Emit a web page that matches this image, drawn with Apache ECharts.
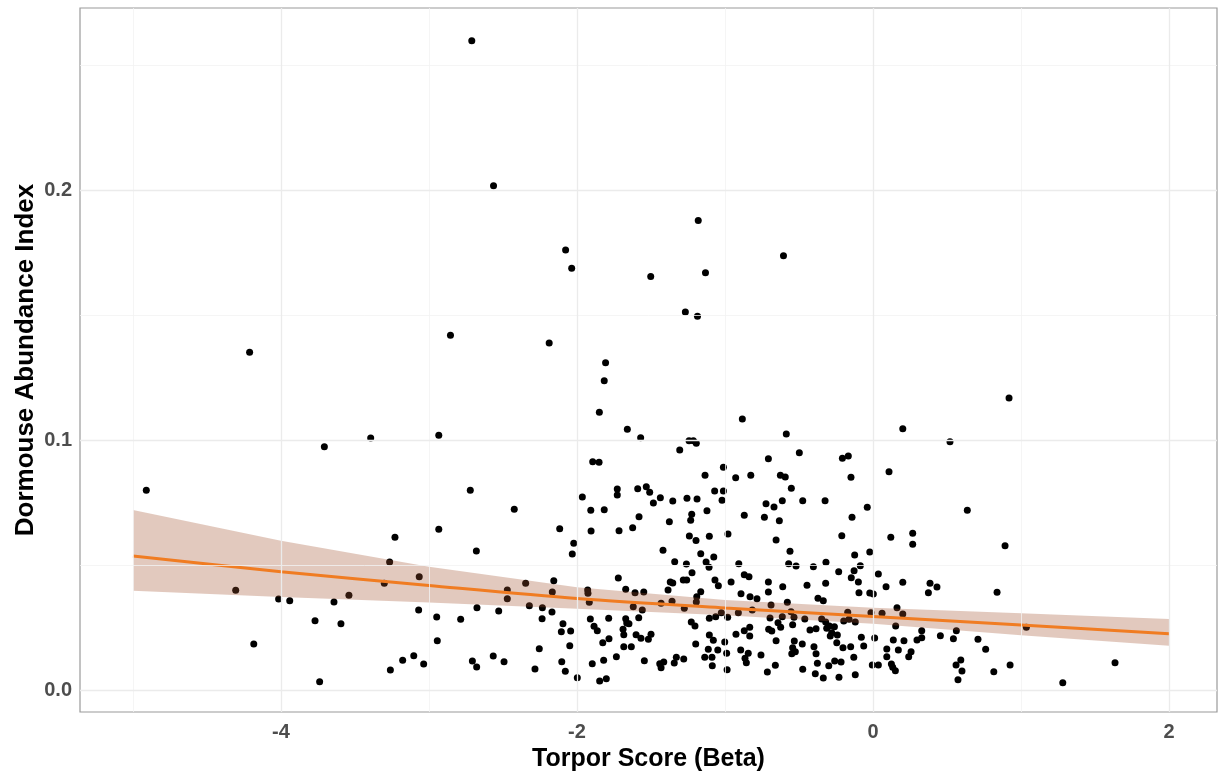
<!DOCTYPE html>
<html>
<head>
<meta charset="utf-8">
<title>Dormouse abundance vs torpor score</title>
<script src="https://cdn.jsdelivr.net/npm/echarts@6.0.0/dist/echarts.min.js"></script>
<style>
  html, body { margin: 0; padding: 0; background: #fff; }
  #main { width: 1218px; height: 774px; }
</style>
</head>
<body>
<div id="main"></div>
<script>
// observed sites: torpor score (x) and abundance index (y)
var ptX = [
  -3.707, -4.910, -4.306, -4.016, -3.941, -3.770, -4.184, -3.739,
  -3.394, -2.934, -2.721, -2.424, -2.934, -3.230, -2.680, -2.117, -2.022, -2.032,
  -3.266, -3.066, -3.302, -3.541, -3.642, -3.595, -3.070, -2.948, -2.944, -2.786,
  -2.676, -2.529, -2.471, -2.471, -2.347, -2.322, -2.234, -2.236, -2.169, -2.157,
  -2.167, -2.095, -2.106, -2.043, -2.049, -2.255, -2.566, -2.493, -2.707, -2.678,
  -3.103, -3.178, -3.036, -3.261, -2.284, -2.103, -2.079, -1.998,
  -1.816, -1.849, -1.660, -1.570, -1.306, -1.243, -1.214, -1.194, -1.894, -1.851,
  -1.011, -1.135, -1.964, -1.728, -1.728, -1.590, -1.532, -1.509, -1.437, -1.484,
  -1.353, -1.257, -1.189, -1.070, -1.011, -1.020, -1.907, -1.816, -1.581, -1.122,
  -1.225, -1.232, -1.376, -1.905, -1.716, -1.624, -1.241, -1.196, -1.106, -0.980,
  -1.419, -1.164, -1.076, -1.340, -1.261, -1.128, -1.108, -1.223, -1.721, -1.370,
  -1.353, -1.282, -1.259, -1.068, -1.045, -1.671, -1.385, -1.928, -1.926, -1.608,
  -1.549, -1.164, -1.191, -1.917, -1.432, -1.358, -1.194, -1.620, -1.559, -1.275,
  -1.025, -1.910, -1.786, -1.671, -1.583, -1.664, -1.649, -1.106, -1.063, -0.982,
  -1.228, -1.203, -1.885, -1.863, -1.689, -1.684, -1.601, -1.568, -1.518, -1.500,
  -1.784, -1.826, -1.684, -1.633, -1.198, -1.106, -1.079, -1.002, -1.113, -1.049,
  -0.989, -1.734, -1.137, -1.088, -1.329, -1.279, -1.545, -1.820, -1.897, -1.441,
  -1.414, -1.343, -1.432, -1.086, -0.986, -1.802, -1.847,
  -0.883, -0.586, -0.498, -0.707, -0.207, -0.167, -0.928, -0.826, -0.626, -0.593,
  -0.149, -0.552, -0.723, -0.669, -0.613, -0.475, -0.324, -0.039, -0.870, -0.734,
  -0.633, -0.142, -0.655, -0.211,
  -0.561, -0.124, -0.022, -0.907, -0.570, -0.520, -0.403, -0.318, -0.232, -0.128,
  -0.086, -0.147, -0.099, 0.036, -0.870, -0.838, -0.959, -0.707, -0.610, -0.446,
  -0.320, -0.707, -0.892, -0.831, -0.784, -0.372, -0.336, -0.579, -0.095, -0.022,
  0.002, -0.689, -0.910, -0.816, -0.554, -0.696, -0.613, -0.534, -0.461, -0.347,
  -0.171, -0.014, -0.642, -0.624, -0.543, -0.705, -0.684, -0.870, -0.833, -0.926,
  -0.833, -0.320, -0.295, -0.198, -0.162, -0.120, -0.313, -0.261, -0.426, -0.385,
  -0.279, -0.289, -0.241, -0.245, -0.655, -0.532, -0.478, -0.543, -0.525, -0.549,
  -0.399, -0.385, -0.203, -0.151, -0.079, -0.063, 0.011, -0.894, -0.843, -0.865,
  -0.856, -0.757, -0.130, -0.376, -0.259, -0.216, -0.299, -0.660, -0.475, -0.714,
  -0.390, -0.336, -0.230, -0.120, -0.005, 0.036,
  0.919, 0.201, 0.520, 0.108, 0.637, 0.120, 0.268, 0.268, 0.892, 0.088,
  0.201, 0.385, 0.374, 0.432, 0.838, 0.162, 0.201, 0.061, 0.153, 0.329,
  0.563, 1.036, 0.137, 0.209, 0.297, 0.329, 0.455, 0.543, 0.709, 0.093,
  0.171, 0.257, 0.241, 0.093, 0.761, 0.124, 0.133, 0.151, 0.561, 0.593,
  0.601, 0.574, 0.816, 0.926, 1.635, 1.282,
  -2.711, -2.564, -2.077, -2.036, -2.855, -2.188, -1.807, -4.212, -1.181, -0.605,
  -1.502, -1.132, -1.268, -1.186
];
var ptY = [
  0.0973, 0.0799, 0.0399, 0.0364, 0.0357, 0.0277, 0.0184, 0.0033,
  0.1008, 0.1019, 0.0799, 0.0723, 0.0643, 0.0611, 0.0556, 0.0645, 0.0587, 0.0544,
  0.0512, 0.0453, 0.0427, 0.0379, 0.0352, 0.0265, 0.0320, 0.0292, 0.0197, 0.0283,
  0.0329, 0.0316, 0.0400, 0.0365, 0.0427, 0.0337, 0.0329, 0.0285, 0.0312, 0.0437,
  0.0392, 0.0265, 0.0233, 0.0236, 0.0177, 0.0165, 0.0136, 0.0113, 0.0116, 0.0092,
  0.0137, 0.0119, 0.0104, 0.0080, 0.0084, 0.0113, 0.0075, 0.0049,
  0.1237, 0.1111, 0.1043, 0.1009, 0.0960, 0.0997, 0.0997, 0.0987, 0.0913, 0.0911,
  0.0891, 0.0859, 0.0772, 0.0804, 0.0780, 0.0805, 0.0813, 0.0791, 0.0769, 0.0748,
  0.0756, 0.0767, 0.0764, 0.0796, 0.0796, 0.0759, 0.0719, 0.0721, 0.0693, 0.0717,
  0.0703, 0.0679, 0.0673, 0.0636, 0.0637, 0.0649, 0.0616, 0.0598, 0.0615, 0.0624,
  0.0559, 0.0545, 0.0532, 0.0513, 0.0504, 0.0512, 0.0491, 0.0469, 0.0448, 0.0432,
  0.0428, 0.0440, 0.0440, 0.0440, 0.0417, 0.0403, 0.0400, 0.0400, 0.0387, 0.0389,
  0.0392, 0.0393, 0.0373, 0.0351, 0.0347, 0.0355, 0.0352, 0.0333, 0.0320, 0.0327,
  0.0309, 0.0284, 0.0287, 0.0285, 0.0289, 0.0268, 0.0265, 0.0287, 0.0293, 0.0291,
  0.0272, 0.0256, 0.0255, 0.0237, 0.0243, 0.0221, 0.0221, 0.0207, 0.0203, 0.0223,
  0.0205, 0.0189, 0.0173, 0.0173, 0.0184, 0.0220, 0.0199, 0.0192, 0.0163, 0.0160,
  0.0147, 0.0133, 0.0131, 0.0131, 0.0131, 0.0124, 0.0117, 0.0119, 0.0105, 0.0105,
  0.0112, 0.0108, 0.0089, 0.0097, 0.0081, 0.0045, 0.0036,
  0.1084, 0.1024, 0.0949, 0.0925, 0.0927, 0.0936, 0.0849, 0.0859, 0.0859, 0.0852,
  0.0851, 0.0807, 0.0745, 0.0732, 0.0757, 0.0757, 0.0757, 0.0731, 0.0699, 0.0691,
  0.0677, 0.0691, 0.0600, 0.0617,
  0.0555, 0.0540, 0.0552, 0.0505, 0.0505, 0.0496, 0.0493, 0.0511, 0.0473, 0.0477,
  0.0497, 0.0449, 0.0432, 0.0464, 0.0461, 0.0453, 0.0432, 0.0432, 0.0413, 0.0419,
  0.0427, 0.0392, 0.0385, 0.0373, 0.0365, 0.0367, 0.0357, 0.0351, 0.0389, 0.0388,
  0.0384, 0.0340, 0.0309, 0.0320, 0.0313, 0.0288, 0.0293, 0.0291, 0.0284, 0.0284,
  0.0311, 0.0309, 0.0269, 0.0251, 0.0261, 0.0243, 0.0236, 0.0237, 0.0251, 0.0223,
  0.0216, 0.0272, 0.0256, 0.0276, 0.0283, 0.0272, 0.0247, 0.0253, 0.0240, 0.0245,
  0.0229, 0.0216, 0.0220, 0.0189, 0.0197, 0.0196, 0.0184, 0.0169, 0.0153, 0.0145,
  0.0173, 0.0145, 0.0169, 0.0173, 0.0211, 0.0176, 0.0208, 0.0160, 0.0147, 0.0127,
  0.0109, 0.0140, 0.0131, 0.0107, 0.0116, 0.0112, 0.0097, 0.0099, 0.0083, 0.0072,
  0.0065, 0.0048, 0.0051, 0.0061, 0.0100, 0.0100,
  0.1168, 0.1045, 0.0993, 0.0873, 0.0719, 0.0611, 0.0627, 0.0583, 0.0577, 0.0413,
  0.0431, 0.0427, 0.0389, 0.0412, 0.0391, 0.0329, 0.0304, 0.0307, 0.0256, 0.0237,
  0.0237, 0.0251, 0.0200, 0.0197, 0.0200, 0.0209, 0.0217, 0.0205, 0.0203, 0.0164,
  0.0160, 0.0153, 0.0133, 0.0133, 0.0163, 0.0104, 0.0091, 0.0077, 0.0100, 0.0120,
  0.0076, 0.0041, 0.0073, 0.0100, 0.0109, 0.0029,
  0.2597, 0.2017, 0.1760, 0.1687, 0.1419, 0.1388, 0.1309, 0.1351, 0.1878, 0.1737,
  0.1654, 0.1669, 0.1512, 0.1495
];

// fitted trend and its confidence band, read at whole x values
var fitX = [-5, -4, -3, -2, -1, 0, 1, 2];
var fitY = [0.0536, 0.0473, 0.0418, 0.0366, 0.0328, 0.0294, 0.0260, 0.0225];
var bandUpper = [0.0720, 0.0597, 0.0493, 0.0411, 0.0360, 0.0329, 0.0307, 0.0284];
var bandLower = [0.0397, 0.0372, 0.0350, 0.0325, 0.0299, 0.0265, 0.0219, 0.0177];

// tick labels and grid lines
var xTicks = [-4, -2, 0, 2];
var xMinorGrid = [-5, -3, -1, 1];
var yTicks = [0, 0.1, 0.2];
var yMinorGrid = [0.05, 0.15, 0.25];

var points = [];
for (var i = 0; i < ptX.length; i++) points.push([ptX[i], ptY[i]]);

var fitData = [];
for (var j = 0; j < fitX.length; j++) fitData.push([fitX[j], fitY[j]]);

var gridLines = [];
xMinorGrid.forEach(function (v) { gridLines.push({ xAxis: v, lineStyle: { type: 'solid', color: '#f3f3f3', width: 0.8 } }); });
yMinorGrid.forEach(function (v) { gridLines.push({ yAxis: v, lineStyle: { type: 'solid', color: '#f3f3f3', width: 0.8 } }); });
xTicks.forEach(function (v) { gridLines.push({ xAxis: v, lineStyle: { type: 'solid', color: '#ebebeb', width: 1.3 } }); });
yTicks.forEach(function (v) { gridLines.push({ yAxis: v, lineStyle: { type: 'solid', color: '#ebebeb', width: 1.3 } }); });

var fontFam = 'Liberation Sans, Arial, sans-serif';
var labelFont = { color: '#4d4d4d', fontSize: 20, fontWeight: 'bold', fontFamily: fontFam };

// confidence band as one polygon: upper edge left to right, lower edge back
function renderBand(params, api) {
  var pts = [];
  for (var k = 0; k < fitX.length; k++) pts.push(api.coord([fitX[k], bandUpper[k]]));
  for (var m = fitX.length - 1; m >= 0; m--) pts.push(api.coord([fitX[m], bandLower[m]]));
  return {
    type: 'polygon',
    shape: { points: pts },
    style: { fill: 'rgba(160,82,45,0.31)', stroke: 'none' },
    silent: true
  };
}

var myChart = echarts.init(document.getElementById('main'), null, { renderer: 'canvas' });

var option = {
  animation: false,
  backgroundColor: '#fff',
  grid: {
    left: 80, right: 1, top: 8, bottom: 62,
    outerBoundsMode: 'none',
    show: true, borderColor: '#9a9a9a', borderWidth: 1.2, backgroundColor: '#fff'
  },
  xAxis: {
    type: 'value',
    min: -5.358, max: 2.324,
    name: 'Torpor Score (Beta)',
    nameLocation: 'middle',
    nameGap: 35,
    nameTextStyle: { color: '#000', fontSize: 25, fontWeight: 'bold', fontFamily: fontFam },
    axisLine: { show: false },
    axisTick: { show: true, length: 5, customValues: xTicks, lineStyle: { color: '#333', width: 1 } },
    axisLabel: Object.assign({ customValues: xTicks, margin: 10 }, labelFont),
    splitLine: { show: false }
  },
  yAxis: {
    type: 'value',
    min: -0.0088, max: 0.2728,
    name: 'Dormouse Abundance Index',
    nameLocation: 'middle',
    nameGap: 41,
    nameMoveOverlap: false,
    nameTextStyle: { color: '#000', fontSize: 26, fontWeight: 'bold', fontFamily: fontFam },
    axisLine: { show: false },
    axisTick: { show: true, length: 5, customValues: yTicks, lineStyle: { color: '#333', width: 1 } },
    axisLabel: Object.assign({
      customValues: yTicks, margin: 8,
      formatter: function (v) { return v.toFixed(1); }
    }, labelFont),
    splitLine: { show: false }
  },
  series: [
    {
      name: 'grid',
      type: 'line',
      data: [],
      z: 0,
      silent: true,
      markLine: {
        silent: true,
        symbol: 'none',
        label: { show: false },
        animation: false,
        data: gridLines
      }
    },
    {
      name: 'sites',
      type: 'scatter',
      data: points,
      symbolSize: 7,
      itemStyle: { color: '#000', opacity: 1 },
      z: 2
    },
    {
      name: 'band',
      type: 'custom',
      renderItem: renderBand,
      data: [[fitX[0], bandUpper[0]]],
      clip: true,
      z: 3,
      silent: true
    },
    {
      name: 'fit',
      type: 'line',
      data: fitData,
      smooth: 0.3,
      symbol: 'none',
      lineStyle: { color: '#f07c22', width: 3 },
      z: 4,
      silent: true
    }
  ]
};

myChart.setOption(option);
</script>
</body>
</html>
